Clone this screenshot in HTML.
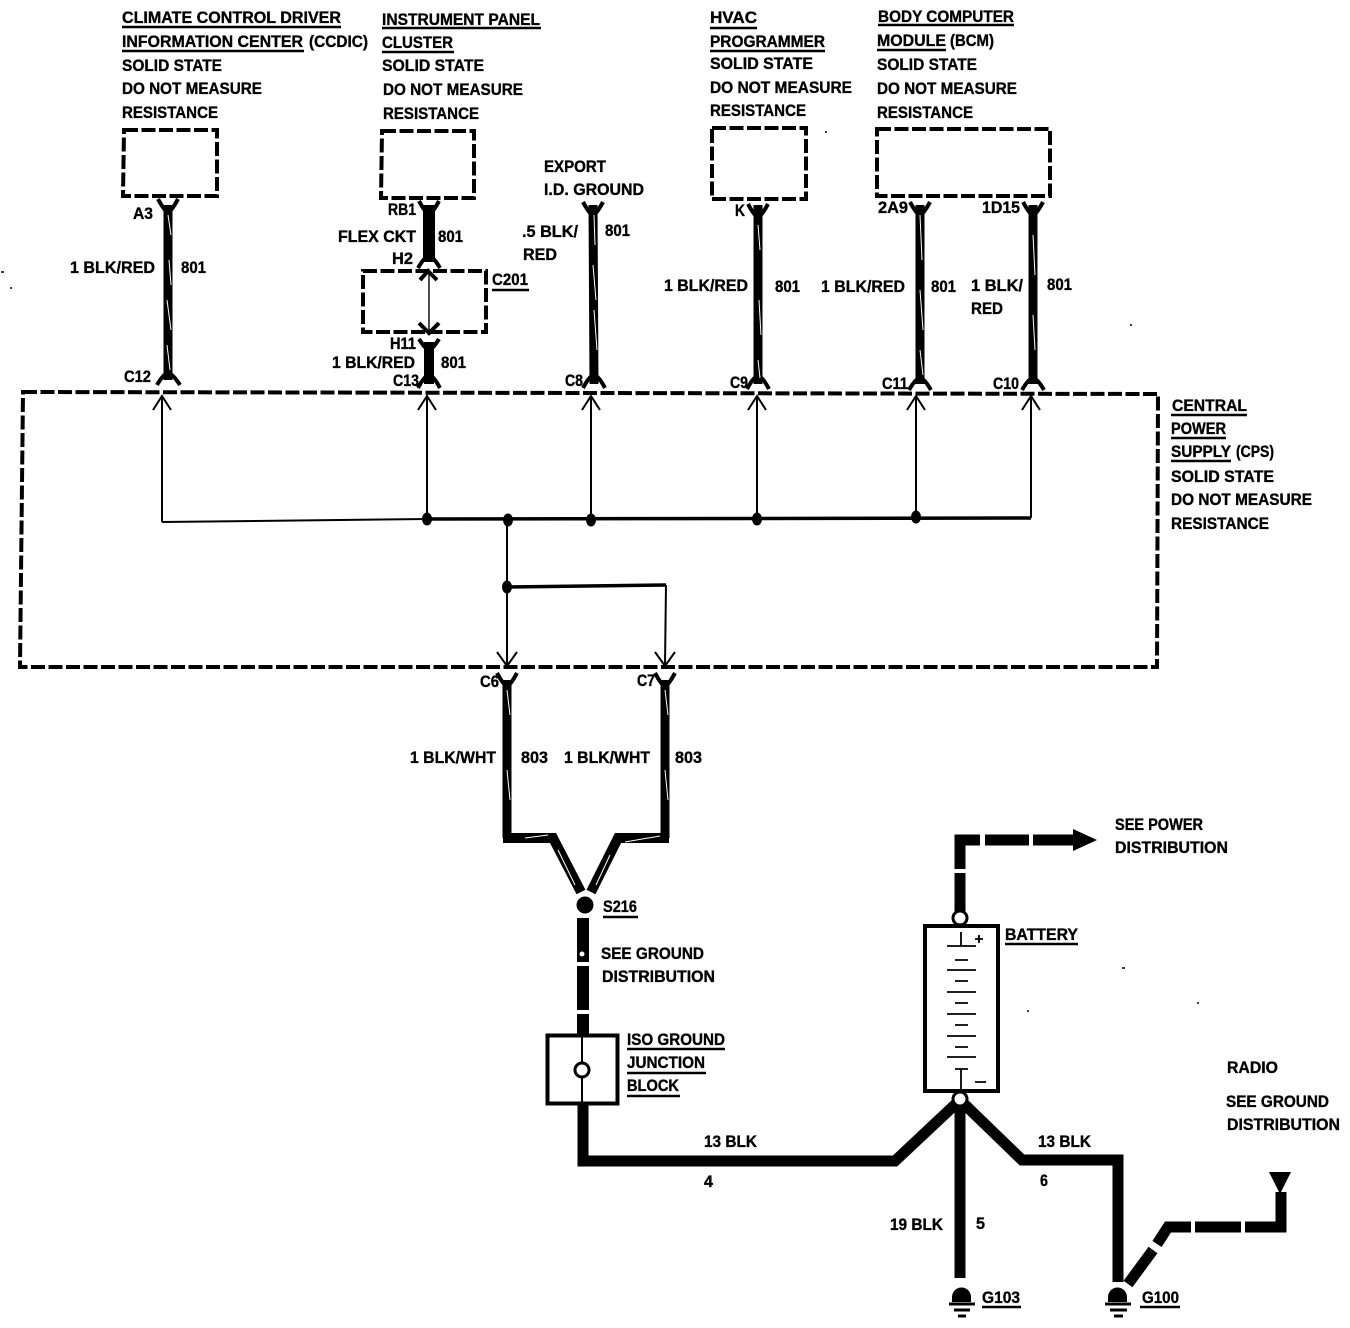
<!DOCTYPE html>
<html><head><meta charset="utf-8"><style>
html,body{margin:0;padding:0;background:#fff}
svg{display:block}
text{font-family:"Liberation Sans",sans-serif;font-weight:bold;font-size:16.5px;fill:#000;stroke:#000;stroke-width:.35}
.w{fill:none;stroke:#000;stroke-width:9}
.f{fill:none;stroke:#000;stroke-width:4}
.t{fill:none;stroke:#000;stroke-width:2}
.b{fill:none;stroke:#000;stroke-width:3.5}
.d{fill:none;stroke:#000;stroke-width:4;stroke-dasharray:14 3.5}
.h{fill:none;stroke:#fff;stroke-width:1}
.u{fill:none;stroke:#000;stroke-width:2.5}
.g{fill:none;stroke:#000;stroke-width:11}
</style></head><body>
<svg width="1350" height="1328" viewBox="0 0 1350 1328" xmlns="http://www.w3.org/2000/svg">
<g>
<text x="122" y="23" textLength="219" lengthAdjust="spacingAndGlyphs">CLIMATE CONTROL DRIVER</text>
<text x="122" y="47" textLength="181" lengthAdjust="spacingAndGlyphs">INFORMATION CENTER</text>
<text x="309" y="47" textLength="59" lengthAdjust="spacingAndGlyphs">(CCDIC)</text>
<text x="122" y="71" textLength="100" lengthAdjust="spacingAndGlyphs">SOLID STATE</text>
<text x="122" y="94" textLength="140" lengthAdjust="spacingAndGlyphs">DO NOT MEASURE</text>
<text x="122" y="118" textLength="96" lengthAdjust="spacingAndGlyphs">RESISTANCE</text>
<text x="382" y="25" textLength="158" lengthAdjust="spacingAndGlyphs">INSTRUMENT PANEL</text>
<text x="382" y="48" textLength="71" lengthAdjust="spacingAndGlyphs">CLUSTER</text>
<text x="382" y="71" textLength="102" lengthAdjust="spacingAndGlyphs">SOLID STATE</text>
<text x="383" y="95" textLength="140" lengthAdjust="spacingAndGlyphs">DO NOT MEASURE</text>
<text x="383" y="119" textLength="96" lengthAdjust="spacingAndGlyphs">RESISTANCE</text>
<text x="710" y="23" textLength="47" lengthAdjust="spacingAndGlyphs">HVAC</text>
<text x="710" y="47" textLength="115" lengthAdjust="spacingAndGlyphs">PROGRAMMER</text>
<text x="710" y="69" textLength="103" lengthAdjust="spacingAndGlyphs">SOLID STATE</text>
<text x="710" y="93" textLength="142" lengthAdjust="spacingAndGlyphs">DO NOT MEASURE</text>
<text x="710" y="116" textLength="96" lengthAdjust="spacingAndGlyphs">RESISTANCE</text>
<text x="878" y="22" textLength="136" lengthAdjust="spacingAndGlyphs">BODY COMPUTER</text>
<text x="877" y="46" textLength="69" lengthAdjust="spacingAndGlyphs">MODULE</text>
<text x="950" y="46" textLength="44" lengthAdjust="spacingAndGlyphs">(BCM)</text>
<text x="877" y="70" textLength="100" lengthAdjust="spacingAndGlyphs">SOLID STATE</text>
<text x="877" y="94" textLength="140" lengthAdjust="spacingAndGlyphs">DO NOT MEASURE</text>
<text x="877" y="118" textLength="96" lengthAdjust="spacingAndGlyphs">RESISTANCE</text>
<text x="544" y="172" textLength="62" lengthAdjust="spacingAndGlyphs">EXPORT</text>
<text x="544" y="195" textLength="100" lengthAdjust="spacingAndGlyphs">I.D. GROUND</text>
<text x="133" y="219" textLength="20" lengthAdjust="spacingAndGlyphs">A3</text>
<text x="388" y="215" textLength="28" lengthAdjust="spacingAndGlyphs">RB1</text>
<text x="735" y="216" textLength="10" lengthAdjust="spacingAndGlyphs">K</text>
<text x="878" y="213" textLength="30" lengthAdjust="spacingAndGlyphs">2A9</text>
<text x="982" y="213" textLength="38" lengthAdjust="spacingAndGlyphs">1D15</text>
<text x="338" y="242" textLength="78" lengthAdjust="spacingAndGlyphs">FLEX CKT</text>
<text x="438" y="242" textLength="25" lengthAdjust="spacingAndGlyphs">801</text>
<text x="392" y="264" textLength="21" lengthAdjust="spacingAndGlyphs">H2</text>
<text x="522" y="237" textLength="56" lengthAdjust="spacingAndGlyphs">.5 BLK/</text>
<text x="523" y="260" textLength="34" lengthAdjust="spacingAndGlyphs">RED</text>
<text x="605" y="236" textLength="25" lengthAdjust="spacingAndGlyphs">801</text>
<text x="70" y="273" textLength="85" lengthAdjust="spacingAndGlyphs">1 BLK/RED</text>
<text x="181" y="273" textLength="25" lengthAdjust="spacingAndGlyphs">801</text>
<text x="664" y="291" textLength="84" lengthAdjust="spacingAndGlyphs">1 BLK/RED</text>
<text x="775" y="292" textLength="25" lengthAdjust="spacingAndGlyphs">801</text>
<text x="821" y="292" textLength="84" lengthAdjust="spacingAndGlyphs">1 BLK/RED</text>
<text x="931" y="292" textLength="25" lengthAdjust="spacingAndGlyphs">801</text>
<text x="971" y="291" textLength="52" lengthAdjust="spacingAndGlyphs">1 BLK/</text>
<text x="971" y="314" textLength="32" lengthAdjust="spacingAndGlyphs">RED</text>
<text x="1047" y="290" textLength="25" lengthAdjust="spacingAndGlyphs">801</text>
<text x="492" y="285" textLength="36" lengthAdjust="spacingAndGlyphs">C201</text>
<text x="390" y="349" textLength="26" lengthAdjust="spacingAndGlyphs">H11</text>
<text x="332" y="368" textLength="83" lengthAdjust="spacingAndGlyphs">1 BLK/RED</text>
<text x="441" y="368" textLength="25" lengthAdjust="spacingAndGlyphs">801</text>
<text x="124" y="382" textLength="27" lengthAdjust="spacingAndGlyphs">C12</text>
<text x="393" y="386" textLength="26" lengthAdjust="spacingAndGlyphs">C13</text>
<text x="565" y="386" textLength="18" lengthAdjust="spacingAndGlyphs">C8</text>
<text x="730" y="388" textLength="18" lengthAdjust="spacingAndGlyphs">C9</text>
<text x="882" y="389" textLength="26" lengthAdjust="spacingAndGlyphs">C11</text>
<text x="993" y="389" textLength="26" lengthAdjust="spacingAndGlyphs">C10</text>
<text x="1172" y="411" textLength="75" lengthAdjust="spacingAndGlyphs">CENTRAL</text>
<text x="1171" y="434" textLength="55" lengthAdjust="spacingAndGlyphs">POWER</text>
<text x="1171" y="457" textLength="60" lengthAdjust="spacingAndGlyphs">SUPPLY</text>
<text x="1236" y="457" textLength="38" lengthAdjust="spacingAndGlyphs">(CPS)</text>
<text x="1171" y="482" textLength="103" lengthAdjust="spacingAndGlyphs">SOLID STATE</text>
<text x="1171" y="505" textLength="141" lengthAdjust="spacingAndGlyphs">DO NOT MEASURE</text>
<text x="1171" y="529" textLength="98" lengthAdjust="spacingAndGlyphs">RESISTANCE</text>
<text x="480" y="687" textLength="19" lengthAdjust="spacingAndGlyphs">C6</text>
<text x="637" y="686" textLength="18" lengthAdjust="spacingAndGlyphs">C7</text>
<text x="410" y="763" textLength="86" lengthAdjust="spacingAndGlyphs">1 BLK/WHT</text>
<text x="521" y="763" textLength="27" lengthAdjust="spacingAndGlyphs">803</text>
<text x="564" y="763" textLength="86" lengthAdjust="spacingAndGlyphs">1 BLK/WHT</text>
<text x="675" y="763" textLength="27" lengthAdjust="spacingAndGlyphs">803</text>
<text x="603" y="912" textLength="34" lengthAdjust="spacingAndGlyphs">S216</text>
<text x="601" y="959" textLength="103" lengthAdjust="spacingAndGlyphs">SEE GROUND</text>
<text x="602" y="982" textLength="113" lengthAdjust="spacingAndGlyphs">DISTRIBUTION</text>
<text x="627" y="1045" textLength="98" lengthAdjust="spacingAndGlyphs">ISO GROUND</text>
<text x="627" y="1068" textLength="78" lengthAdjust="spacingAndGlyphs">JUNCTION</text>
<text x="627" y="1091" textLength="52" lengthAdjust="spacingAndGlyphs">BLOCK</text>
<text x="1115" y="830" textLength="88" lengthAdjust="spacingAndGlyphs">SEE POWER</text>
<text x="1115" y="853" textLength="113" lengthAdjust="spacingAndGlyphs">DISTRIBUTION</text>
<text x="1005" y="940" textLength="73" lengthAdjust="spacingAndGlyphs">BATTERY</text>
<text x="1227" y="1073" textLength="51" lengthAdjust="spacingAndGlyphs">RADIO</text>
<text x="1226" y="1107" textLength="103" lengthAdjust="spacingAndGlyphs">SEE GROUND</text>
<text x="1227" y="1130" textLength="113" lengthAdjust="spacingAndGlyphs">DISTRIBUTION</text>
<text x="704" y="1147" textLength="53" lengthAdjust="spacingAndGlyphs">13 BLK</text>
<text x="704" y="1187" textLength="9" lengthAdjust="spacingAndGlyphs">4</text>
<text x="1038" y="1147" textLength="53" lengthAdjust="spacingAndGlyphs">13 BLK</text>
<text x="1040" y="1186" textLength="8" lengthAdjust="spacingAndGlyphs">6</text>
<text x="890" y="1230" textLength="53" lengthAdjust="spacingAndGlyphs">19 BLK</text>
<text x="976" y="1229" textLength="9" lengthAdjust="spacingAndGlyphs">5</text>
<text x="982" y="1303" textLength="38" lengthAdjust="spacingAndGlyphs">G103</text>
<text x="1142" y="1303" textLength="37" lengthAdjust="spacingAndGlyphs">G100</text>
</g>
<path class="u" d="M122 27H341M122 51H304M382 28H541M382 52H454M710 28H757M710 51H825M878 25H1014M877 50H946M492 290H529M1171 415H1247M1171 438H1226M1171 461H1231M603 917H638M627 1049H725M627 1073H706M627 1096H680M1005 944H1078M982 1307H1021M1140 1307H1180"/>
<path class="d" d="M124 130H217V196H123Z"/>
<path class="d" d="M382 131H474V198H381Z"/>
<path class="d" d="M712 128H806V199H712Z"/>
<path class="d" d="M877 129H1050V196H877Z"/>
<path class="d" d="M363 271H486V332H363Z"/>
<path class="d" d="M23 392L1158 394L1157 667L20 667Z"/>
<path class="w" d="M168 205L168 380M593 205L594 384M758 205V384M920 205V384M1033 205V384M507 680V838M665 680V838"/>
<path d="M429 205V262" fill="none" stroke="#000" stroke-width="12"/>
<path d="M429 342V384" fill="none" stroke="#000" stroke-width="10"/>
<path class="f" d="M158 199Q165 212 168 212Q171 212 178 199M419 201Q426 214 429 214Q432 214 439 201M583 202Q590 215 593 215Q596 215 603 202M748 204Q755 217 758 217Q761 217 768 204M910 202Q917 215 920 215Q923 215 930 202M1023 202Q1030 215 1033 215Q1036 215 1043 202M497 673Q504 686 507 686Q510 686 517 673M655 673Q662 686 665 686Q668 686 675 673M419 339Q426 350 429 350Q432 350 439 339"/>
<path class="f" d="M157 385Q164 373 168 373Q172 373 180 385M418 388Q425 375 429 375Q433 375 440 388M583 388Q590 375 594 375Q598 375 605 388M747 389Q754 376 758 376Q762 376 769 389M909 390Q916 378 920 378Q924 378 931 390M1022 390Q1029 378 1033 378Q1037 378 1044 390M418 268Q425 256 429 256Q433 256 440 268"/>
<path class="h" d="M168 215L171 235M169 260L171 285M167 300L171 330M167 345L170 370M594 215L595 245M593 265L596 300M594 310L597 350M758 225L760 250M759 300L761 335M758 360L760 378M920 215L922 260M920 290L923 330M920 350L923 375M1033 235L1035 275M1033 315L1035 350M507 690L510 715M507 770L510 800M665 690L668 715M665 770L668 800"/>
<path class="t" d="M162 522L427 519M162 522V397M427 519V397M591 519V397M757 519V397M916 519V397M1031 518V397M507 520V665M666 585L665 665"/>
<path class="b" d="M427 519L1031 518M507 587L666 585"/>
<path d="M429 271V332" fill="none" stroke="#000" stroke-width="1.4"/>
<path class="t" d="M153 410L162 396L171 410M418 410L427 396L436 410M582 410L591 396L600 410M748 410L757 396L766 410M907 410L916 396L925 410M1022 410L1031 396L1040 410M497 652L507 666L517 652M655 652L665 666L675 652"/>
<path class="f" d="M420 280L428 271L437 280M419 323L429 333L439 323" stroke-width="3"/>
<ellipse cx="427" cy="519" rx="5" ry="6.5"/><ellipse cx="508" cy="520" rx="5" ry="6.5"/><ellipse cx="591" cy="520" rx="5" ry="6.5"/><ellipse cx="757" cy="519" rx="5" ry="6.5"/><ellipse cx="916" cy="517" rx="5" ry="6.5"/><ellipse cx="507" cy="587" rx="5" ry="6.5"/>
<path d="M503 838H553L581 892M669 838H618L591 892" fill="none" stroke="#000" stroke-width="10"/>
<path class="h" d="M525 838L548 835M625 842L660 836M558 850L575 885M610 855L596 885"/>
<circle cx="585" cy="905" r="8.5"/>
<path d="M583 918V962M583 966V1010M583 1014V1036" fill="none" stroke="#000" stroke-width="12"/>
<circle cx="582" cy="954" r="2.5" fill="#fff"/>
<rect x="547.5" y="1035.5" width="70" height="68" fill="#fff" stroke="#000" stroke-width="4"/>
<path class="t" d="M582 1037V1062M582 1077V1103"/>
<circle cx="582" cy="1070" r="7" fill="#fff" stroke="#000" stroke-width="3"/>
<path class="g" d="M583 1104V1161H895L960 1100"/>
<path class="g" d="M960 1100V1278"/>
<path class="g" d="M960 1100L1022 1160H1118V1282"/>
<path class="g" d="M960 912V873M960 869V840H980M985 840H1029M1033 840H1078"/>
<path d="M1073 829L1097 840L1073 851Z"/>
<circle cx="960" cy="918" r="7" fill="#fff" stroke="#000" stroke-width="3"/>
<rect x="925" y="926" width="73" height="165" fill="#fff" stroke="#000" stroke-width="4"/>
<path d="M961 932V946M947 946H976M955 960H968M947 970H976M955 981H968M947 992H976M955 1003H968M947 1014H976M955 1025H968M947 1036H976M955 1047H968M947 1057H976M955 1069H968M961 1069V1091M975 1082H986M975 939H983M979 935V943" fill="none" stroke="#000" stroke-width="1.8"/>
<circle cx="960" cy="1099" r="7" fill="#fff" stroke="#000" stroke-width="3"/>
<path class="g" d="M1128 1284L1153 1250M1157 1244L1168 1227H1191M1195 1227H1241M1245 1227H1281V1192"/>
<path d="M1269 1172H1291L1280 1194Z"/>
<path d="M952 1302V1297a9.500 9.500 0 0 1 19 0V1302Z"/>
<path d="M949 1304H975M954 1310H970M958 1316H966" stroke="#000" stroke-width="3"/>
<path d="M1108 1302V1297a9.500 9.500 0 0 1 19 0V1302Z"/>
<path d="M1105 1304H1131M1110 1310H1127M1114 1316H1123" stroke="#000" stroke-width="3"/>
<path d="M1 272h3M10 288h2M1130 325h2M825 132h2M1122 968h3M1197 1003h2M1027 1011h2" stroke="#000" stroke-width="1.5"/>
</svg>
</body></html>
